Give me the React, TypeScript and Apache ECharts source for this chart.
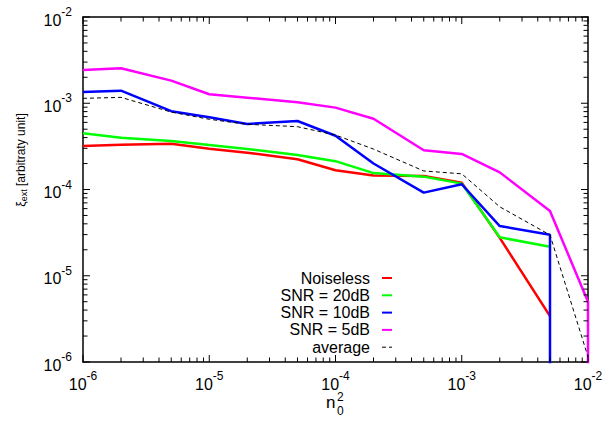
import React, { useEffect, useRef } from "react";
import * as echarts from "echarts";

// x positions (n0^2)
const xValues = [1e-6, 2e-6, 5e-6, 1e-5, 2e-5, 5e-5, 1e-4, 2e-4, 5e-4, 1e-3, 2e-3, 5e-3, 1e-2];

// series values (xi_ext)
const noiseless = [3.2e-4, 3.3e-4, 3.4e-4, 2.97e-4, 2.67e-4, 2.24e-4, 1.67e-4, 1.45e-4, 1.43e-4, 1.2e-4, 2.75e-5, 3.4e-6];
const snr20 = [4.48e-4, 3.99e-4, 3.65e-4, 3.28e-4, 2.95e-4, 2.51e-4, 2.13e-4, 1.55e-4, 1.41e-4, 1.17e-4, 2.79e-5, 2.17e-5];
const snr10X = [1e-6, 2e-6, 5e-6, 1e-5, 2e-5, 5e-5, 1e-4, 2e-4, 5e-4, 1e-3, 2e-3, 5e-3, 5e-3];
const snr10 = [1.35e-3, 1.4e-3, 8.1e-4, 6.87e-4, 5.75e-4, 6.22e-4, 4.2e-4, 2.0e-4, 9.2e-5, 1.15e-4, 3.77e-5, 2.99e-5, 1e-9];
const snr5X = [1e-6, 2e-6, 5e-6, 1e-5, 2e-5, 5e-5, 1e-4, 2e-4, 5e-4, 1e-3, 2e-3, 5e-3, 1e-2, 1e-2];
const snr5 = [2.43e-3, 2.54e-3, 1.83e-3, 1.27e-3, 1.16e-3, 1.03e-3, 8.9e-4, 6.6e-4, 2.85e-4, 2.58e-4, 1.58e-4, 5.63e-5, 5.0e-6, 1e-9];
const average = [1.14e-3, 1.17e-3, 7.9e-4, 6.52e-4, 5.7e-4, 5.35e-4, 4.28e-4, 2.94e-4, 1.64e-4, 1.52e-4, 6.3e-5, 2.97e-5, 1.15e-6];

const seriesNames = ["Noiseless", "SNR = 20dB", "SNR = 10dB", "SNR = 5dB", "average"];
const seriesColors = ["#ff0000", "#00ff00", "#0000ff", "#ff00ff", "#000000"];

const axisMin = 1e-6;
const axisMax = 1e-2;

// tick marks (both axes use the same decades)
const majorTicks = [1e-6, 1e-5, 1e-4, 1e-3, 1e-2];
const minorMultipliers = [2, 3, 4, 5, 6, 7, 8, 9];

const MAJOR_LEN = 7;
const MINOR_LEN = 4.5;

const FONT = '"Liberation Sans", Arial, Helvetica, sans-serif';

function zip(xs: number[], ys: number[]) {
  return ys.map((y, i) => [xs[i], y]);
}

const powLabel = (v: number) => {
  const e = Math.round(Math.log10(v));
  return `{b|10}{s|${e}}`;
};

const richPow = {
  b: { fontSize: 16, fontFamily: FONT, color: "#000", lineHeight: 22, verticalAlign: "bottom" },
  s: { fontSize: 12, fontFamily: FONT, color: "#000", lineHeight: 14, verticalAlign: "top" },
};

export default function App() {
  const ref = useRef<HTMLDivElement>(null);
  useEffect(() => {
    if (!ref.current) return;
    const chart = echarts.init(ref.current, undefined, { renderer: "svg" });

    const lineCommon = { show: true, lineStyle: { color: "#000", width: 1.5 } };

    const logAxisBase = {
      type: "log",
      logBase: 10,
      min: axisMin,
      max: axisMax,
      splitLine: { show: false },
      minorTick: { show: false },
      axisTick: { show: false },
      axisLine: lineCommon,
    };

    const lineSeries: any[] = [
      { data: zip(xValues, noiseless) },
      { data: zip(xValues, snr20) },
      { data: zip(snr10X, snr10) },
      { data: zip(snr5X, snr5) },
      { data: zip(xValues, average) },
    ].map((s, i) => ({
      name: seriesNames[i],
      type: "line",
      xAxisIndex: 0,
      yAxisIndex: 0,
      data: s.data,
      symbol: "none",
      clip: true,
      color: seriesColors[i],
      lineStyle:
        i === 4
          ? { color: "#000", width: 1, type: [4, 3] }
          : { color: seriesColors[i], width: 2.5 },
      z: 2 + i,
    }));

    const baseOption: any = {
      animation: false,
      backgroundColor: "#ffffff",
      grid: { left: 83, right: 18, top: 17, bottom: 60, containLabel: false },
      legend: {
        orient: "vertical",
        align: "right",
        right: 208,
        top: 264.5,
        itemWidth: 10,
        itemHeight: 14,
        itemGap: 0.3,
        selectedMode: false,
        itemStyle: { opacity: 0 },
        lineStyle: { width: 2 },
        data: [
          seriesNames[0],
          seriesNames[1],
          seriesNames[2],
          seriesNames[3],
          { name: seriesNames[4], lineStyle: { width: 1 } },
        ],
        textStyle: {
          fontSize: 16,
          fontFamily: FONT,
          color: "#000",
          lineHeight: 17,
          padding: [0, 7, 0, 0],
        },
      },
      xAxis: [
        {
          ...logAxisBase,
          position: "bottom",
          axisLabel: {
            show: true,
            margin: 8,
            formatter: powLabel,
            rich: richPow,
            showMinLabel: true,
            showMaxLabel: true,
            hideOverlap: false,
          },
        },
        { ...logAxisBase, position: "top", axisLabel: { show: false } },
      ],
      yAxis: [
        {
          ...logAxisBase,
          position: "left",
          axisLabel: {
            show: true,
            margin: 11,
            formatter: powLabel,
            rich: richPow,
            showMinLabel: true,
            showMaxLabel: true,
            hideOverlap: false,
          },
        },
        { ...logAxisBase, position: "right", axisLabel: { show: false } },
      ],
      series: lineSeries,
    };

    chart.setOption(baseOption);

    // tick marks: broken line series in data space, tick length converted through the axes' scales
    const toX = (v: number) => Number(chart.convertToPixel({ xAxisIndex: 0 }, v));
    const toY = (v: number) => Number(chart.convertToPixel({ yAxisIndex: 0 }, v));
    const fromX = (p: number) => Number(chart.convertFromPixel({ xAxisIndex: 0 }, p));
    const fromY = (p: number) => Number(chart.convertFromPixel({ yAxisIndex: 0 }, p));
    const left = toX(axisMin);
    const right = toX(axisMax);
    const bottom = toY(axisMin);
    const top = toY(axisMax);

    const tickList: { v: number; len: number }[] = [];
    majorTicks.forEach((d, i) => {
      tickList.push({ v: d, len: MAJOR_LEN });
      if (i < majorTicks.length - 1) minorMultipliers.forEach((k) => tickList.push({ v: d * k, len: MINOR_LEN }));
    });

    const bottomTicks: any[] = [];
    const topTicks: any[] = [];
    const leftTicks: any[] = [];
    const rightTicks: any[] = [];
    tickList.forEach(({ v, len }) => {
      bottomTicks.push([v, axisMin], [v, fromY(bottom - len)], [v, "-"]);
      topTicks.push([v, axisMax], [v, fromY(top + len)], [v, "-"]);
      leftTicks.push([axisMin, v], [fromX(left + len), v], ["-", v]);
      rightTicks.push([axisMax, v], [fromX(right - len), v], ["-", v]);
    });

    const tickSeries = [bottomTicks, topTicks, leftTicks, rightTicks].map((d, i) => ({
      name: "tick" + i,
      type: "line",
      xAxisIndex: 0,
      yAxisIndex: 0,
      data: d,
      symbol: "none",
      clip: false,
      silent: true,
      connectNulls: false,
      color: "#000",
      lineStyle: { color: "#000", width: 1 },
      z: 20,
    }));

    chart.setOption({
      series: [...lineSeries, ...tickSeries],
      graphic: [
        {
          type: "text",
          x: 21,
          y: 160,
          rotation: Math.PI / 2,
          style: {
            text: "{a|\u03be}{c|ext}{a| [arbitraty unit]}",
            align: "center",
            verticalAlign: "middle",
            rich: {
              a: { fontSize: 12, fontFamily: FONT, fill: "#000", lineHeight: 15, verticalAlign: "middle" },
              c: { fontSize: 9, fontFamily: FONT, fill: "#000", lineHeight: 15, verticalAlign: "bottom" },
            },
          },
        },
        {
          type: "text",
          x: 326,
          y: 402,
          style: { text: "n", fontSize: 17, fontFamily: FONT, fill: "#000", align: "left", verticalAlign: "middle" },
        },
        {
          type: "text",
          x: 337,
          y: 404,
          style: {
            text: "2\n0",
            fontSize: 12,
            lineHeight: 14.5,
            fontFamily: FONT,
            fill: "#000",
            align: "left",
            verticalAlign: "middle",
          },
        },
      ],
    });

    return () => chart.dispose();
  }, []);

  return (
    <div
      ref={ref}
      style={{ position: "fixed", left: 0, top: 0, width: 606, height: 422, background: "#fff" }}
    />
  );
}
